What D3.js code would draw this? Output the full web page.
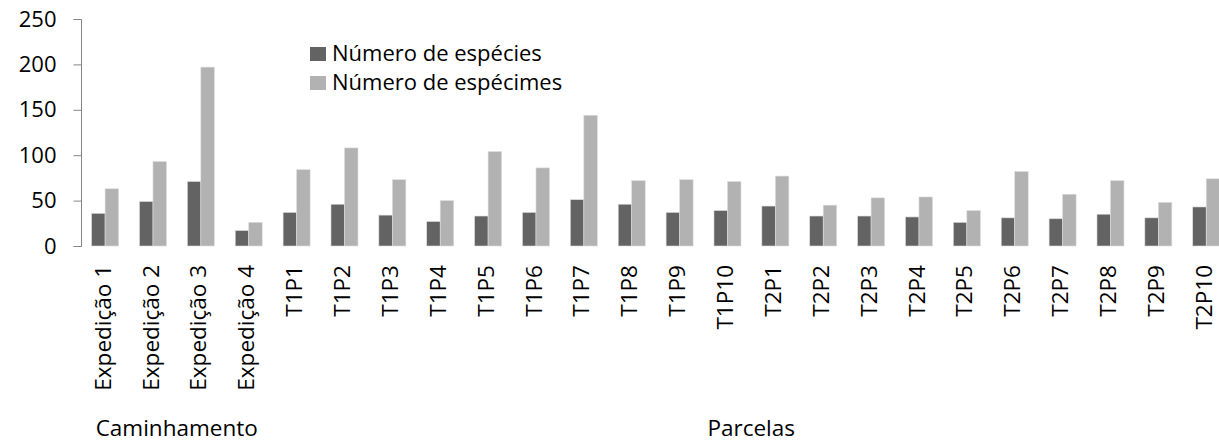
<!DOCTYPE html>
<html>
<head>
<meta charset="utf-8">
<script src="https://cdn.jsdelivr.net/npm/d3@7"></script>
<style>
  body { margin: 0; background: #fff; }
  svg text { font-family: "Open Sans", sans-serif; fill: #000; }
  .axis path, .axis line { stroke: #868686; }
</style>
</head>
<body>
<div class="chartWrap"></div>
<script>
//Data
const categories = ['Expedição 1', 'Expedição 2', 'Expedição 3', 'Expedição 4',
  'T1P1', 'T1P2', 'T1P3', 'T1P4', 'T1P5', 'T1P6', 'T1P7', 'T1P8', 'T1P9', 'T1P10',
  'T2P1', 'T2P2', 'T2P3', 'T2P4', 'T2P5', 'T2P6', 'T2P7', 'T2P8', 'T2P9', 'T2P10'];
const especies = [36, 49, 71, 17, 37, 46, 34, 27, 33, 37, 51, 46, 37, 39, 44, 33, 33, 32, 26, 31, 30, 35, 31, 43];
const especimes = [63, 93, 197, 26, 84, 108, 73, 50, 104, 86, 144, 72, 73, 71, 77, 45, 53, 54, 39, 82, 57, 72, 48, 74];
const seriesNames = ['Número de espécies', 'Número de espécimes'];
const groups = [{name: 'Caminhamento', from: 'Expedição 1', to: 'Expedição 4'},
  {name: 'Parcelas', from: 'T1P1', to: 'T2P10'}];
const yTicks = [0, 50, 100, 150, 200, 250];

//Variables
const w = 1219, h = 443,
  colors = ['#636363', '#b2b2b2'],
  labelSize = 22.5;

let canvas = d3.select(".chartWrap").append("svg").attr("width", w).attr("height", h);

//Scales
let x0 = d3.scaleBand().domain(categories).range([81, 1230]);
let x1 = d3.scaleBand().domain([0, 1]).range([10.6, 10.6 + 27]);
let yScale = d3.scaleLinear().domain([0, 250]).range([246, 19]);

//Y axis
let yAxis = d3.axisLeft(yScale).tickValues(yTicks).tickSize(8).tickPadding(17);
let gy = canvas.append("g").attr("class", "axis")
  .attr("transform", "translate(81.5,0)")
  .call(yAxis);
gy.select(".domain").attr("d", "M-8," + (yScale(250) + 0.5) + "H0V" + (yScale(0) + 0.5) + "H-8");
gy.selectAll(".tick line").attr("stroke", "#868686");
gy.selectAll("text").attr("font-size", 22).attr("fill", "#000")
  .style("font-family", "'Open Sans', sans-serif");

//Bars
let rows = categories.map((c, i) => ({cat: c, vals: [especies[i], especimes[i]]}));
let bars = canvas.selectAll(".grp").data(rows).enter().append("g")
  .attr("transform", d => "translate(" + x0(d.cat) + ",0)");
bars.selectAll("rect").data(d => d.vals).enter().append("rect")
  .attr("x", (d, i) => x1(i))
  .attr("width", x1.bandwidth())
  .attr("y", d => yScale(d))
  .attr("height", d => yScale(0) - yScale(d))
  .attr("fill", (d, i) => colors[i])
  .attr("stroke", "#dcdcdc").attr("stroke-width", 0.6);

//Category labels (rotated)
canvas.selectAll(".catLabel").data(categories).enter().append("text")
  .attr("class", "catLabel")
  .attr("transform", d => "translate(" + (x0(d) + x0.bandwidth() / 2 - 1) + ",265) rotate(-90)")
  .attr("text-anchor", "end")
  .attr("dy", "0.3em")
  .attr("font-size", labelSize)
  .text(d => d);

//Group labels
groups.forEach(g => {
  let cx = (x0(g.from) + x0(g.to) + x0.bandwidth()) / 2;
  canvas.append("text").text(g.name)
    .attr("x", cx).attr("y", 436)
    .attr("text-anchor", "middle").attr("font-size", labelSize);
});

//Legend
seriesNames.forEach((s, i) => {
  canvas.append("rect").attr("x", 310).attr("y", 47 + i * 29).attr("width", 16).attr("height", 14)
    .attr("fill", colors[i]);
  canvas.append("text").text(s).attr("x", 332).attr("y", 61 + i * 29)
    .attr("font-size", 22);
});
</script>
</body>
</html>
